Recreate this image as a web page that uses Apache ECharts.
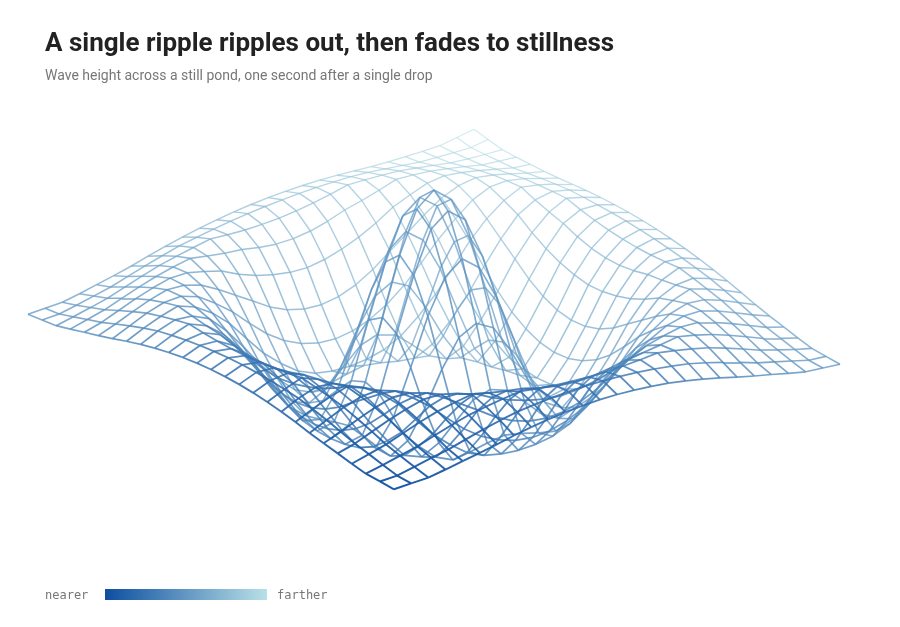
<!DOCTYPE html>
<html><head><meta charset="utf-8">
<script src="https://cdn.jsdelivr.net/npm/echarts@6/dist/echarts.min.js"></script>
<style>html,body{margin:0;background:#fff}#c{width:900px;height:627px}</style>
</head><body><div id="c"></div>
<script>
// wave height, by distance from the drop (0 = centre, 1 = edge midpoint)
const radii   = [0, 0.05, 0.1, 0.15, 0.2, 0.25, 0.3, 0.35, 0.4, 0.45, 0.5, 0.6, 0.7, 0.8, 0.9, 1.0, 1.15, 1.3, 1.45];
const heights = [1, 0.97, 0.85, 0.65, 0.4, 0.15, -0.12, -0.32, -0.45, -0.48, -0.42, -0.2, 0.05, 0.22, 0.28, 0.22, 0.1, 0.02, 0];
const gridSteps = 26;
const nearColor = [13, 79, 160], farColor = [184, 224, 230];

function heightAt(r) {
  for (let k = 1; k < radii.length; k++) {
    if (r <= radii[k]) {
      const t = (r - radii[k - 1]) / (radii[k] - radii[k - 1]);
      return heights[k - 1] + t * (heights[k] - heights[k - 1]);
    }
  }
  return heights[heights.length - 1];
}
// projection: centre, right-corner and front-corner directions, height scale
const C = [434, 340], eR = [406, 25], eF = [-40, 150], H = 150;
function project(i, j) {
  const x = i / gridSteps * 2 - 1, y = j / gridSteps * 2 - 1;
  const p = (x + y) / 2, q = (y - x) / 2;
  const h = heightAt(Math.sqrt(x * x + y * y));
  // far side drawn a little higher, like a perspective view
  const lift = q < 0 ? 60 * q * q : 0;
  return { pt: [C[0] + p * eR[0] + q * eF[0], C[1] + p * eR[1] + q * eF[1] - h * H - lift], q: q };
}
function colorFor(q) {
  const t = Math.min(1, Math.max(0, (1 - q) / 2));
  const c = nearColor.map((v, k) => Math.round(v + (farColor[k] - v) * t));
  return 'rgb(' + c.join(',') + ')';
}
const segs = [];
for (let i = 0; i <= gridSteps; i++) {
  for (let j = 0; j <= gridSteps; j++) {
    const a = project(i, j);
    [[i + 1, j], [i, j + 1]].forEach(([a2, b2]) => {
      if (a2 > gridSteps || b2 > gridSteps) return;
      const b = project(a2, b2);
      const q = (a.q + b.q) / 2;
      segs.push({ coords: [a.pt, b.pt], q: q, lineStyle: { color: colorFor(q), width: 1.2 + 0.8 * (q + 1) / 2, opacity: 0.6 + 0.35 * (q + 1) / 2 } });
    });
  }
}
segs.sort((m, n) => m.q - n.q);

const chart = echarts.init(document.getElementById('c'));
chart.setOption({
  animation: false,
  title: {
    text: 'A single ripple ripples out, then fades to stillness',
    subtext: 'Wave height across a still pond, one second after a single drop',
    left: 40, top: 26,
    textStyle: { fontFamily: 'Roboto', fontSize: 26, fontWeight: 'bold', color: '#222' },
    subtextStyle: { fontFamily: 'Roboto', fontSize: 14, color: '#777' }, itemGap: 12
  },
  grid: { left: 0, right: 0, top: 0, bottom: 0 },
  xAxis: { type: 'value', min: 0, max: 900, show: false },
  yAxis: { type: 'value', min: 0, max: 627, inverse: true, show: false },
  series: [{ type: 'lines', coordinateSystem: 'cartesian2d', polyline: false, silent: true, data: segs }],
  graphic: [
    { type: 'text', left: 45, top: 590, style: { text: 'nearer', font: '12px "DejaVu Sans Mono"', fill: '#777' } },
    { type: 'rect', shape: { x: 105, y: 589, width: 162, height: 11 },
      style: { fill: new echarts.graphic.LinearGradient(0, 0, 1, 0, [{ offset: 0, color: colorFor(1) }, { offset: 1, color: colorFor(-1) }]) } },
    { type: 'text', left: 277, top: 590, style: { text: 'farther', font: '12px "DejaVu Sans Mono"', fill: '#777' } }
  ]
});
</script></body></html>
